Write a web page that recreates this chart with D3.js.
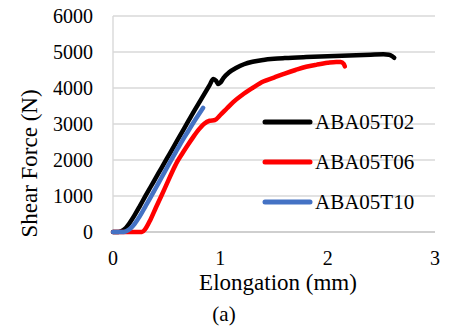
<!DOCTYPE html>
<html>
	<head>
		<title>Shear Force vs Elongation</title>
		<script src="https://d3js.org/d3.v7.min.js"></script>

		<style>
			body {
			  margin: 0;
			  background: #fff;
			}

			text {
			  font-family: "Liberation Serif", "Times New Roman", serif;
			  fill: #000;
			}

			.grid line {
			  stroke: #d9d9d9;
			  stroke-width: 1.4px;
			}

			.series {
			  fill: none;
			  stroke-width: 4.5px;
			  stroke-linejoin: round;
			  stroke-linecap: round;
			}
		</style>
	</head>

	<body>

		<svg width="462" height="332"></svg>

        <script type="text/javascript">
			var seriesNames = ["ABA05T02", "ABA05T06", "ABA05T10"];
			var seriesColors = ["#000000", "#ff0000", "#4472c4"];

			var xTicks = [0, 1, 2, 3];
			var yTicks = [0, 1000, 2000, 3000, 4000, 5000, 6000];

			// elongation (mm), shear force (N)
			var t02x = [0, 0.05, 0.1, 0.15, 0.2, 0.25, 0.3, 0.35, 0.4, 0.45, 0.5, 0.55, 0.6, 0.65, 0.7, 0.75, 0.8, 0.85, 0.9, 0.935, 0.96, 0.98, 1.0, 1.03, 1.08, 1.15, 1.22, 1.3, 1.4, 1.5, 1.6, 1.8, 2.0, 2.2, 2.4, 2.52, 2.57, 2.6, 2.62];
			var t02y = [0, 0, 60, 230, 460, 720, 990, 1250, 1510, 1770, 2030, 2290, 2550, 2810, 3070, 3330, 3580, 3830, 4080, 4250, 4200, 4110, 4150, 4280, 4430, 4560, 4660, 4730, 4780, 4810, 4830, 4860, 4885, 4905, 4925, 4935, 4925, 4885, 4840];

			var t06x = [0, 0.2, 0.27, 0.3, 0.35, 0.4, 0.45, 0.5, 0.55, 0.6, 0.65, 0.7, 0.75, 0.8, 0.85, 0.9, 0.95, 1.0, 1.06, 1.12, 1.2, 1.3, 1.4, 1.5, 1.6, 1.7, 1.8, 1.9, 2.0, 2.08, 2.12, 2.15, 2.16];
			var t06y = [0, 0, 0, 80, 350, 680, 1000, 1330, 1660, 1960, 2200, 2430, 2650, 2850, 3010, 3090, 3110, 3250, 3430, 3610, 3800, 4000, 4180, 4290, 4400, 4500, 4590, 4650, 4700, 4725, 4720, 4670, 4600];

			var t10x = [0, 0.08, 0.12, 0.16, 0.2, 0.25, 0.3, 0.35, 0.4, 0.45, 0.5, 0.55, 0.6, 0.65, 0.7, 0.75, 0.8, 0.84];
			var t10y = [0, 0, 20, 90, 220, 440, 700, 960, 1230, 1500, 1770, 2040, 2300, 2560, 2800, 3040, 3270, 3450];

			var seriesX = [t02x, t06x, t10x];
			var seriesY = [t02y, t06y, t10y];

			var x = d3.scaleLinear().domain([0, 3]).range([113, 435]);
			var y = d3.scaleLinear().domain([0, 6000]).range([232, 16]);

			var svg = d3.select('svg');

			// gridlines
			svg.append('g')
			  .classed('grid', true)
			  .selectAll('line')
			  .data(yTicks.slice(1))
			  .enter()
			  .append('line')
			  .attr('x1', x(0))
			  .attr('x2', x(3))
			  .attr('y1', function(d) {return y(d);})
			  .attr('y2', function(d) {return y(d);});

			// axis lines
			svg.append('line')
			  .attr('x1', x(0)).attr('x2', x(0))
			  .attr('y1', y(6000)).attr('y2', y(0))
			  .attr('stroke', '#d9d9d9')
			  .attr('stroke-width', 1.4);
			svg.append('line')
			  .attr('x1', x(0)).attr('x2', x(3))
			  .attr('y1', y(0)).attr('y2', y(0))
			  .attr('stroke', '#bfbfbf')
			  .attr('stroke-width', 1.6);

			// tick labels
			svg.append('g').selectAll('text')
			  .data(yTicks)
			  .enter()
			  .append('text')
			  .attr('x', 93)
			  .attr('y', function(d) {return y(d);})
			  .attr('dy', '0.34em')
			  .attr('text-anchor', 'end')
			  .style('font-size', '20px')
			  .text(function(d) {return d;});

			svg.append('g').selectAll('text')
			  .data(xTicks)
			  .enter()
			  .append('text')
			  .attr('x', function(d) {return x(d);})
			  .attr('y', 264.5)
			  .attr('text-anchor', 'middle')
			  .style('font-size', '20px')
			  .text(function(d) {return d;});

			// titles
			svg.append('text')
			  .attr('x', 278)
			  .attr('y', 290)
			  .attr('text-anchor', 'middle')
			  .style('font-size', '23px')
			  .text('Elongation (mm)');

			svg.append('text')
			  .attr('transform', 'translate(37,163.5) rotate(-90)')
			  .attr('text-anchor', 'middle')
			  .style('font-size', '23px')
			  .text('Shear Force (N)');

			svg.append('text')
			  .attr('x', 224)
			  .attr('y', 321)
			  .attr('text-anchor', 'middle')
			  .style('font-size', '21px')
			  .text('(a)');

			// curves
			var lineGenerator = d3.line()
			  .x(function(d) {return x(d[0]);})
			  .y(function(d) {return y(d[1]);})
			  .curve(d3.curveMonotoneX);

			svg.append('g').selectAll('path')
			  .data(seriesNames)
			  .enter()
			  .append('path')
			  .classed('series', true)
			  .attr('stroke', function(d, i) {return seriesColors[i];})
			  .attr('d', function(d, i) {
			  	return lineGenerator(d3.zip(seriesX[i], seriesY[i]));
			  });

			// legend
			var legend = svg.append('g').selectAll('g')
			  .data(seriesNames)
			  .enter()
			  .append('g')
			  .attr('transform', function(d, i) {return 'translate(0,' + (122 + i * 40) + ')';});

			legend.append('line')
			  .attr('x1', 265)
			  .attr('x2', 310)
			  .attr('stroke', function(d, i) {return seriesColors[i];})
			  .attr('stroke-width', 5)
			  .attr('stroke-linecap', 'round');

			legend.append('text')
			  .attr('x', 315)
			  .attr('y', 7.3)
			  .style('font-size', '21px')
			  .text(function(d) {return d;});
        </script>

	</body>
</html>
